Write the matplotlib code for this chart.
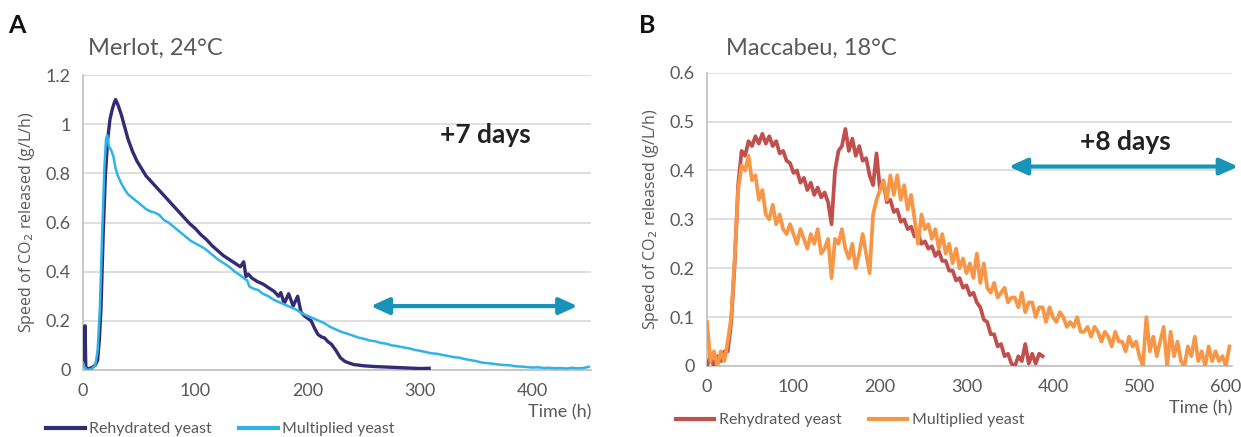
import numpy as np
import matplotlib
matplotlib.use("Agg")
import matplotlib.pyplot as plt

# ── Data ────────────────────────────────────────────────────────────────────────
# Panel A: Merlot, 24°C
merlot_reh_t = [0, 1, 1.8, 2.5, 5, 8, 11, 13, 14.5, 16, 18, 20, 22, 24, 26, 28, 29,
                31, 34, 37, 40, 44, 48, 52, 56, 60, 65, 70, 75, 80, 85, 90, 95, 100,
                105, 110, 115, 120, 125, 130, 135, 140, 143, 145, 147, 150, 155, 160,
                165, 170, 174, 176, 179, 183, 187, 191, 194, 197, 200, 203, 206, 209,
                212, 215, 218, 221, 225, 229, 233, 237, 241, 245, 250, 260, 270, 280,
                290, 300, 308]
merlot_reh_v = [0.02, 0.05, 0.18, 0.01, 0.005, 0.01, 0.02, 0.04, 0.12, 0.25, 0.56,
                0.80, 0.94, 1.02, 1.06, 1.09, 1.10, 1.08, 1.04, 0.99, 0.94, 0.89, 0.85,
                0.82, 0.79, 0.77, 0.745, 0.72, 0.695, 0.67, 0.645, 0.62, 0.595, 0.575,
                0.55, 0.53, 0.505, 0.485, 0.465, 0.45, 0.435, 0.42, 0.44, 0.38, 0.39,
                0.375, 0.36, 0.35, 0.335, 0.32, 0.30, 0.315, 0.27, 0.31, 0.26, 0.30,
                0.235, 0.22, 0.21, 0.20, 0.17, 0.145, 0.135, 0.13, 0.115, 0.105, 0.08,
                0.05, 0.035, 0.028, 0.022, 0.02, 0.017, 0.014, 0.012, 0.01, 0.008,
                0.006, 0.007]

merlot_mul_t = [0, 1.5, 4, 8, 11, 13, 15, 17, 19, 20.5, 21.5, 23, 25, 27, 29, 31, 34,
                37, 40, 44, 48, 52, 56, 60, 64, 68, 72, 76, 80, 84, 88, 92, 96, 100,
                104, 108, 112, 116, 120, 125, 130, 135, 140, 144, 146, 148, 152, 156,
                160, 165, 170, 175, 180, 185, 190, 195, 200, 205, 210, 215, 220, 225,
                230, 235, 240, 245, 250, 255, 260, 265, 270, 275, 280, 285, 290, 295,
                300, 305, 310, 315, 320, 325, 330, 335, 340, 345, 350, 355, 360, 365,
                370, 375, 380, 385, 390, 395, 400, 405, 410, 415, 420, 425, 430, 435,
                440, 445, 450]
merlot_mul_v = [0.03, 0.01, 0.0, 0.005, 0.02, 0.08, 0.25, 0.55, 0.82, 0.94, 0.955,
                0.91, 0.895, 0.87, 0.82, 0.79, 0.76, 0.735, 0.715, 0.70, 0.685, 0.67,
                0.655, 0.645, 0.64, 0.63, 0.61, 0.60, 0.585, 0.57, 0.555, 0.54, 0.525,
                0.515, 0.505, 0.495, 0.48, 0.465, 0.45, 0.435, 0.42, 0.40, 0.385,
                0.37, 0.365, 0.34, 0.33, 0.325, 0.31, 0.30, 0.285, 0.275, 0.265,
                0.255, 0.245, 0.23, 0.22, 0.21, 0.20, 0.19, 0.175, 0.165, 0.155,
                0.148, 0.14, 0.132, 0.127, 0.12, 0.117, 0.11, 0.107, 0.10, 0.097,
                0.092, 0.088, 0.082, 0.078, 0.073, 0.068, 0.066, 0.061, 0.057, 0.052,
                0.05, 0.044, 0.04, 0.036, 0.03, 0.028, 0.025, 0.022, 0.02, 0.019,
                0.015, 0.014, 0.012, 0.01, 0.011, 0.008, 0.009, 0.007, 0.008, 0.006,
                0.009, 0.007, 0.008, 0.013]

# Panel B: Maccabeu, 18°C — sampled every 4 h
macc_step = 4
macc_reh_v = [0.00, 0.02, 0.00, 0.02, 0.01, 0.03, 0.03, 0.09, 0.21, 0.37, 0.44, 0.43,
              0.46, 0.45, 0.47, 0.455, 0.475, 0.455, 0.47, 0.45, 0.46, 0.435, 0.44,
              0.42, 0.415, 0.395, 0.40, 0.375, 0.385, 0.36, 0.375, 0.35, 0.365, 0.345,
              0.355, 0.335, 0.29, 0.40, 0.44, 0.45, 0.485, 0.44, 0.465, 0.43, 0.45,
              0.42, 0.425, 0.39, 0.37, 0.435, 0.36, 0.375, 0.335, 0.34, 0.315, 0.32,
              0.295, 0.30, 0.28, 0.285, 0.265, 0.27, 0.25, 0.255, 0.24, 0.245, 0.225,
              0.235, 0.215, 0.215, 0.195, 0.195, 0.175, 0.18, 0.16, 0.165, 0.145,
              0.15, 0.13, 0.12, 0.095, 0.09, 0.065, 0.065, 0.04, 0.045, 0.02, 0.025,
              0.005, 0.0, 0.02, 0.01, 0.045, 0.005, 0.025, 0.005, 0.025, 0.02]
macc_mul_v = [0.09, 0.01, 0.03, 0.00, 0.03, 0.01, 0.05, 0.10, 0.22, 0.36, 0.41, 0.40,
              0.43, 0.38, 0.39, 0.34, 0.36, 0.31, 0.30, 0.33, 0.29, 0.31, 0.28, 0.27,
              0.29, 0.27, 0.25, 0.28, 0.26, 0.24, 0.27, 0.25, 0.28, 0.23, 0.24, 0.26,
              0.18, 0.26, 0.25, 0.28, 0.24, 0.22, 0.25, 0.20, 0.23, 0.27, 0.23, 0.19,
              0.31, 0.34, 0.36, 0.38, 0.34, 0.39, 0.35, 0.39, 0.34, 0.37, 0.32, 0.35,
              0.30, 0.25, 0.31, 0.28, 0.29, 0.26, 0.28, 0.24, 0.27, 0.23, 0.25, 0.21,
              0.24, 0.20, 0.22, 0.19, 0.21, 0.18, 0.23, 0.17, 0.21, 0.16, 0.15, 0.17,
              0.14, 0.15, 0.16, 0.13, 0.14, 0.14, 0.12, 0.15, 0.11, 0.13, 0.13, 0.10,
              0.12, 0.12, 0.09, 0.12, 0.10, 0.09, 0.11, 0.10, 0.08, 0.09, 0.08, 0.10,
              0.07, 0.07, 0.08, 0.06, 0.08, 0.07, 0.05, 0.07, 0.06, 0.04, 0.07, 0.05,
              0.05, 0.03, 0.06, 0.04, 0.05, 0.02, 0.00, 0.10, 0.03, 0.06, 0.02, 0.05,
              0.08, 0.00, 0.07, 0.02, 0.05, 0.01, 0.00, 0.04, 0.02, 0.06, 0.01, 0.03,
              0.00, 0.04, 0.01, 0.03, 0.01, 0.02, 0.00, 0.04]

series_labels = ["Rehydrated yeast", "Multiplied yeast"]
panel_titles = ["Merlot, 24°C", "Maccabeu, 18°C"]
panel_letters = ["A", "B"]
gain_labels = ["+7 days", "+8 days"]
ylabel = "Speed of CO$_2$ released (g/L/h)"

# ── Style ────────────────────────────────────────────────────────────────────────
NAVY = "#312c74"
SKY = "#2fb3e8"
BRICK = "#c0504d"
ORANGE = "#f79646"
ARROW = "#1893ba"
GRID = "#d9d9d9"
TXT = "#595959"
plt.rcParams["font.family"] = ["Lato", "DejaVu Sans"]


def style_axes(ax, ymax, ystep, xmax, xstep):
    ax.set_ylim(0, ymax)
    ax.set_xlim(0, xmax)
    ax.set_yticks(np.arange(0, ymax + 1e-9, ystep))
    ax.set_xticks(np.arange(0, xmax + 1e-9, xstep)[: int(xmax // xstep) + 1])
    ax.grid(axis="y", color=GRID, linewidth=1.2, zorder=0)
    for s in ("top", "right"):
        ax.spines[s].set_visible(False)
    for s in ("left", "bottom"):
        ax.spines[s].set_color("#bfbfbf")
        ax.spines[s].set_linewidth(1.2)
    ax.tick_params(length=0, labelsize=13, colors=TXT, pad=9)
    ax.set_axisbelow(True)


def gain_arrow(ax, x0, x1, y):
    ax.annotate("", xy=(x1, y), xytext=(x0, y), annotation_clip=False,
                arrowprops=dict(arrowstyle="<|-|>,head_length=1.1,head_width=0.5",
                                color=ARROW, lw=3, shrinkA=0, shrinkB=0))


fig = plt.figure(figsize=(12.41, 4.37), dpi=100)
axA = fig.add_axes([83 / 1241, 1 - 370 / 437, (591 - 83) / 1241, 295 / 437])
axB = fig.add_axes([707 / 1241, 1 - 366 / 437, (1232 - 707) / 1241, 293.3 / 437])

# Panel A
axA.plot(merlot_reh_t, merlot_reh_v, color=NAVY, lw=2.4, label=series_labels[0], zorder=3)
axA.plot(merlot_mul_t, merlot_mul_v, color=SKY, lw=1.8, label=series_labels[1], zorder=4)
style_axes(axA, 1.2, 0.2, 452, 100)
axA.set_yticklabels(["0", "0.2", "0.4", "0.6", "0.8", "1", "1.2"])

# Panel B
tB_reh = np.arange(len(macc_reh_v)) * macc_step
tB_mul = np.arange(len(macc_mul_v)) * macc_step
axB.plot(tB_reh, macc_reh_v, color=BRICK, lw=2.7, label=series_labels[0], zorder=3)
axB.plot(tB_mul, macc_mul_v, color=ORANGE, lw=2.7, label=series_labels[1], zorder=4)
style_axes(axB, 0.6, 0.1, 607, 100)
axB.set_yticklabels(["0", "0.1", "0.2", "0.3", "0.4", "0.5", "0.6"])

for ax, title, letter, gain, gx, gy, arr, lx, tx in [
        (axA, panel_titles[0], panel_letters[0], gain_labels[0], 358, 0.955,
         (256, 440, 0.26), 8, 88),
        (axB, panel_titles[1], panel_letters[1], gain_labels[1], 484, 0.459,
         (349, 614, 0.408), 639, 726)]:
    ax.set_ylabel(ylabel, fontsize=11.5, color=TXT, family=["Open Sans", "DejaVu Sans"],
                  labelpad=6)
    ax.text(gx, gy, gain, ha="center", va="center", fontsize=19, fontweight="bold",
            color="#222222")
    gain_arrow(ax, *arr)
    fig.text(tx / 1241, 1 - 55 / 437, title, fontsize=17, color=TXT, va="baseline")
    fig.text(lx / 1241, 1 - 33 / 437, letter, fontsize=18, fontweight="bold",
             color="#111111", va="baseline")
    ax.text(1.0, -0.145, "Time (h)", transform=ax.transAxes, ha="right", va="center",
            fontsize=13, color=TXT, clip_on=False)

legA = axA.legend(loc="center left", bbox_to_anchor=(-0.085, -0.2), ncol=2,
                  frameon=False, fontsize=11.5, handlelength=2.4, columnspacing=1.7,
                  handletextpad=0.3, borderaxespad=0)
legB = axB.legend(loc="center left", bbox_to_anchor=(-0.072, -0.185), ncol=2,
                  frameon=False, fontsize=11.5, handlelength=2.4, columnspacing=1.7,
                  handletextpad=0.3, borderaxespad=0)
for leg in (legA, legB):
    for t in leg.get_texts():
        t.set_color(TXT)
    for h in leg.legend_handles:
        h.set_linewidth(3)

fig.savefig("out.png", dpi=100, facecolor="white")
